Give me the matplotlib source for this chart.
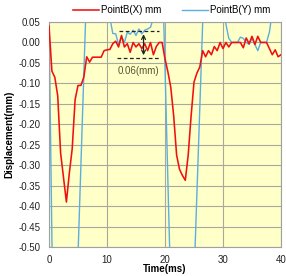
import matplotlib
matplotlib.use("Agg")
import matplotlib.pyplot as plt
import numpy as np

plt.rcParams['font.family'] = ['Liberation Sans', 'DejaVu Sans']
plt.rcParams['axes.unicode_minus'] = False

time_ms = [i * 0.5 for i in range(81)]

point_x = [0.04, -0.07, -0.085, -0.13, -0.27, -0.33, -0.39, -0.32, -0.26, -0.14,
           -0.105, -0.105, -0.085, -0.035, -0.048, -0.036, -0.036, -0.036, -0.036, -0.02,
           -0.018, -0.017, -0.003, 0.003, -0.011, 0.017, -0.011, -0.003, -0.024, 0.0,
           -0.011, -0.003, -0.015, -0.003, -0.02, 0.0, -0.03, -0.01, 0.0, 0.0,
           -0.04, -0.072, -0.11, -0.18, -0.275, -0.31, -0.325, -0.337, -0.275, -0.18,
           -0.097, -0.075, -0.06, -0.02, -0.035, -0.02, -0.03, -0.01, -0.02, 0.0,
           -0.015, 0.0, -0.011, 0.0, 0.0, 0.0, 0.0, -0.013, 0.011, -0.003,
           0.015, -0.005, 0.015, 0.0, 0.0, 0.0, -0.015, -0.03, -0.018, -0.035,
           -0.03]

point_y = [0.06, -0.48, -1.0, -1.0, -1.0, -1.0, -1.0, -1.0, -1.0, -1.0,
           -0.52, -0.3, -0.08, 0.14, 0.3, 0.3, 0.3, 0.3, 0.3, 0.3,
           0.1, 0.06, 0.022, 0.021, -0.005, 0.015, 0.0, 0.025, 0.02, 0.03,
           0.017, 0.033, 0.021, 0.03, 0.033, 0.037, 0.06, 0.2, 0.25, 0.2,
           -0.06, -0.34, -0.61, -1.0, -1.0, -1.0, -1.0, -1.0, -1.0, -1.0,
           -0.58, -0.37, -0.16, 0.05, 0.26, 0.3, 0.3, 0.3, 0.3, 0.3,
           0.1, 0.045, 0.01, 0.0, 0.0, 0.0, 0.013, 0.01, 0.0, -0.005,
           0.01, -0.005, -0.02, 0.0, 0.0, 0.0, 0.025, 0.075, 0.3, 0.3,
           0.3]

series_labels = ['PointB(X) mm', 'PointB(Y) mm']
x_ticks = [0, 10, 20, 30, 40]
y_ticks = [0.05, 0.0, -0.05, -0.10, -0.15, -0.20, -0.25, -0.30, -0.35, -0.40, -0.45, -0.50]
annot_top, annot_bottom = 0.027, -0.038
annot_label = '0.06(mm)'

W, H = 286, 276
fig = plt.figure(figsize=(W / 100, H / 100), dpi=100)
ax = fig.add_axes([49 / W, 1 - 247 / H, (281 - 49) / W, (247 - 22) / H])
ax.set_facecolor('#FFFFC8')

ax.plot(time_ms, point_x, color='#F01010', lw=1.15, label=series_labels[0], zorder=3)
ax.plot(time_ms, point_y, color='#5AAEE0', lw=1.0, label=series_labels[1], zorder=2)

ax.set_xlim(0, 40)
ax.set_ylim(-0.5, 0.05)
ax.set_xticks(x_ticks)
ax.set_yticks(y_ticks)
ax.set_yticklabels([f'{v:.2f}' for v in y_ticks])
ax.tick_params(length=0, labelsize=7, colors='#222222', pad=6)
ax.grid(True, color='#A8A8A0', lw=0.8)
ax.set_axisbelow(True)
for s in ax.spines.values():
    s.set_color('#A0A0A0')
    s.set_linewidth(0.8)

ax.set_ylabel('Displacement(mm)', fontsize=7, fontweight='bold', labelpad=3)
fig.text(165 / W, 2 / H, 'Time(ms)', fontsize=7, fontweight='bold', ha='center', va='bottom')

# annotation
ax.plot([12.0, 19.0], [annot_top, annot_top], color='#222222', lw=0.9, ls=(0, (3, 2)), zorder=4)
ax.plot([11.8, 19.0], [annot_bottom, annot_bottom], color='#222222', lw=0.9, ls=(0, (3, 2)), zorder=4)
ax.annotate('', xy=(16.3, annot_top), xytext=(16.3, annot_bottom),
            arrowprops=dict(arrowstyle='<->', color='#222222', lw=0.9, mutation_scale=7), zorder=5)
ax.text(15.5, -0.069, annot_label, fontsize=7, color='#555533', ha='center', va='center', zorder=5)

fig.legend(loc='upper center', bbox_to_anchor=(0.6, 1.012), ncol=2, frameon=False,
           fontsize=7, handlelength=2.6, handletextpad=0.2, columnspacing=2.2)

fig.savefig('out.png', dpi=100)
